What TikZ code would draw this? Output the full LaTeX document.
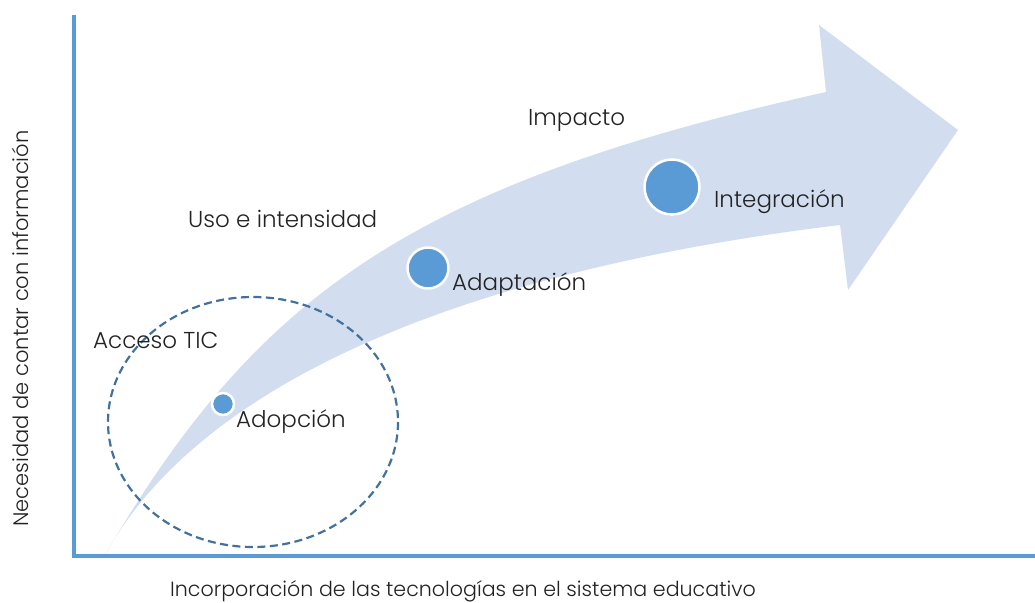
\documentclass[tikz,border=0pt]{standalone}
\usepackage{fontspec}
\setmainfont{Poppins Light}
\definecolor{axisblue}{HTML}{5B9BD5}
\definecolor{bandblue}{HTML}{D2DEEF}
\definecolor{ringblue}{HTML}{41719C}
\definecolor{inkgray}{HTML}{222222}
\begin{document}
\begin{tikzpicture}[x=1pt,y=-1pt,
  lbl/.style={anchor=base west,inner sep=0pt,text=inkgray,font=\fontsize{23}{27}\selectfont},
  axlbl/.style={anchor=base west,inner sep=0pt,text=inkgray,font=\fontsize{21}{25}\selectfont},
  dot/.style={circle,fill=axisblue,draw=white,line width=2.5pt,inner sep=0pt,minimum size=#1}]
\useasboundingbox (0,0) rectangle (1035,602);

\begin{scope}
% curved band arrow
\coordinate (tail) at (105,555);
\coordinate (hu) at (826,92);
\coordinate (hup) at (819,25);
\coordinate (tip) at (958,130);
\coordinate (hlow) at (848,290);
\coordinate (hl) at (840,225);
\fill[bandblue] (tail) .. controls (257,295) and (412,184) .. (hu)
  -- (hup) -- (tip) -- (hlow) -- (hl)
  .. controls (484.5,268) and (205,374) .. (tail) -- cycle;

% axes
\coordinate (o) at (74,556);
\coordinate (ytop) at (74,15);
\coordinate (xend) at (1035,556);
\draw[axisblue,line width=3.5pt] (ytop) -- (o) -- (xend);

% access ring
\draw[ringblue,line width=2.2pt,dash pattern=on 8pt off 4.5pt] (253,422) ellipse (145 and 125);

% stages
\node[dot=22] (adop) at (223,404) {};
\node[dot=41] (adap) at (428,268) {};
\node[dot=55] (integ) at (672,187) {};
\node[lbl] (tadop) at (236,427) {Adopción};
\node[lbl] (tadap) at (452,290) {Adaptación};
\node[lbl] (tinteg) at (714,207) {Integración};

\node[lbl] (acceso) at (93,348) {Acceso TIC};
\node[lbl] (uso) at (188,227) {Uso e intensidad};
\node[lbl] (impacto) at (528,125) {Impacto};

\node[axlbl,font=\fontsize{20.6}{25}\selectfont] (xlab) at (170,596) {Incorporación de las tecnologías en el sistema educativo};
\node[axlbl,rotate=90] (ylab) at (28.5,527) {Necesidad de contar con información};
\end{scope}

\end{tikzpicture}
\end{document}
